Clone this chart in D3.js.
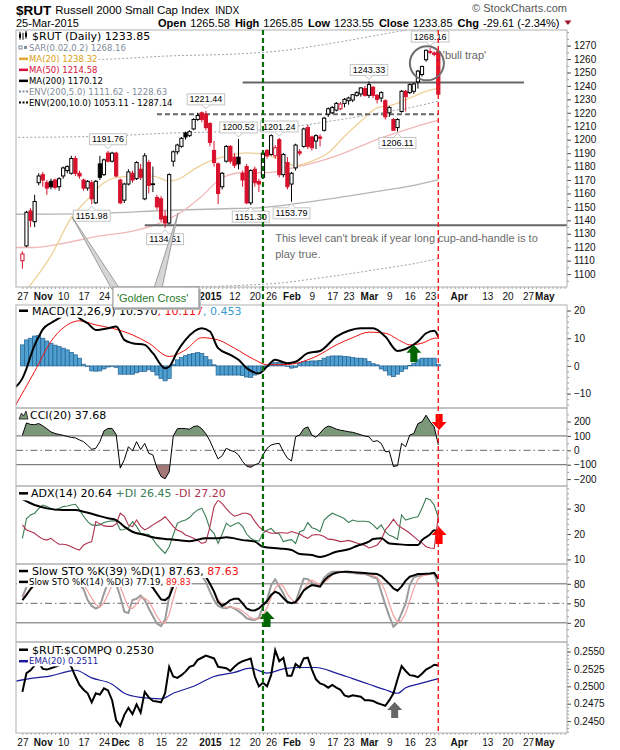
<!DOCTYPE html>
<html lang="en">
<head>
<meta charset="UTF-8">
<title>$RUT Russell 2000 Small Cap Index</title>
<script src="https://cdn.jsdelivr.net/npm/d3@7"></script>
<style>
  body { margin: 0; background: #fff; }
  svg { display: block; }
</style>
</head>
<body>
<div id="chart"></div>
<script>
// ---- values, one entry per trading day from 27-Oct-2014 ----
const open = [1110,1121,1147,1139,1168,1174,1168,1169,1170,1165, 1173,1177,1175,1186,1175,1170,1164,1168,1153,1182,
  1174,1190,1184,1190,1170,1155,1167,1175,1171,1178, 1156,1183,1167,1157,1156,1143,1138,1184,1191,1195,
  1205,1203,1208,1215,1220,1219,1212,1192,1182,1165, 1184,1195,1187,1187,1175,1180,1153,1178,1169,1172,
  1192,1189,1188,1200,1174,1183,1167,1179,1191,1195, 1209,1202,1199,1202,1207,1219,1220,1222,1223,1227,
  1229,1229.5,1233,1234,1238,1233,1239,1233,1231,1229, 1220,1215,1209,1221,1236,1235,1236,1243,1248.5,1259.5,
  1265.5,1264.5,1265.58];
const high = [1117,1147,1149,1159,1175,1176,1170,1171,1171,1172, 1180,1181,1188,1188,1177,1171,1170,1170,1170,1188,
  1186,1191.76,1191,1191,1171,1168,1178,1177,1184,1182, 1190,1185,1180,1159,1158,1147,1175,1192,1197,1202,
  1206,1207,1216,1220,1221,1221.44,1213,1199,1183,1176, 1196,1196,1190,1200.52,1177,1182,1178,1180,1171,1191,
  1193,1204,1196,1201.24,1190,1187,1176,1197,1193,1209, 1211,1203,1204,1204,1217,1224,1225,1228,1228,1231,
  1232,1234,1236,1239,1240,1243.33,1240,1234,1236,1230, 1225,1216,1216,1237,1237,1242,1242.5,1252,1255,1267,
  1268.16,1265.5,1265.85];
const low = [1104,1120,1135,1135,1166,1165,1159,1163,1163,1162, 1171,1175,1174,1173,1171,1162,1162,1151.98,1152,1170,
  1173,1183,1183,1172,1152,1153,1166,1168,1170,1170, 1155,1160,1161,1148,1139,1134.51,1137,1180,1189,1194,
  1200,1202,1207,1214,1213,1207,1195,1180,1152,1163, 1183,1182,1179,1178,1165,1152,1151.30,1165,1161,1171,
  1186,1188,1186,1172,1172,1163,1153.79,1177,1188,1194, 1193,1192,1193,1195,1206,1217,1219,1221,1222,1224,
  1226,1228,1232,1232,1232,1231,1231,1227,1228,1215, 1217,1206.5,1206.11,1220,1221,1234,1234,1238,1247,1258,
  1263.5,1262,1233.55];
const close = [1115,1146,1140,1154,1173,1170,1164,1165,1164.5,1171, 1179,1180,1186,1175,1173,1164,1169,1156,1169,1172,
  1185,1184,1190,1173,1153,1167,1176,1170,1183,1172, 1188,1166,1167.2,1150,1141,1138,1174,1191,1196,1201,
  1202,1206,1215,1218,1215,1209,1198,1183,1160,1175, 1195,1184,1181,1182,1170,1153,1177,1168,1167,1190,
  1188,1203,1194,1174,1189,1165,1175,1196,1190,1208, 1195,1194,1203,1201,1216,1223,1224,1227,1226.5,1230,
  1231,1233.5,1235,1238.5,1233,1241,1233,1230,1235,1217, 1224,1207,1215,1236,1232,1241,1241.5,1251,1254.5,1266.5,
  1265,1263.5,1233.85];
const prevClose = 1118;

// overlays: [trading-day index, value]
const ma20 = [[-2,1077],[3,1096],[7,1113.6],[12,1142],[16,1155.6],[19,1165.5],[23,1171.7],[27,1172.9],[32,1172.9],[36,1169.2],
  [39,1171.7],[42,1177.9],[45,1182.8],[50,1187.7],[55,1190.2],[59,1189],[63,1185.3],[67,1180.8],[71,1184],[75,1190.2],
  [79,1202.6],[83,1213.7],[87,1223.6],[91,1226],[95,1231],[99,1235.9],[102,1238.32]];
const ma50 = [[-2,1119.8],[3,1119.8],[11,1123.5],[19,1128.4],[27,1132],[34,1138.3],[39,1146.2],[44,1158],[49,1171.7],[54,1175.4],
  [59,1175.4],[63,1176.6],[68,1180.3],[73,1184],[78,1189],[83,1195.2],[88,1201.3],[93,1206.3],[98,1211.2],[102,1214.58]];
const ma200 = [[-2,1144.5],[19,1145.2],[36,1147.5],[52,1148.8],[56,1149],[64,1151.2],[72,1154.4],[81,1158.5],[89,1162.5],[95,1165.5],[102,1170.12]];
const env5Upper = [[-2,1201.7],[19,1202.5],[36,1204.9],[52,1206.2],[64,1208.8],[72,1212.1],[81,1216.4],[89,1220.6],[95,1223.8],[102,1228.63]];
const env5Lower = [[-2,1087.3],[19,1088],[36,1090.1],[52,1091.4],[64,1093.6],[72,1096.7],[81,1100.6],[89,1104.4],[95,1107.2],[102,1111.62]];
const env10Upper = [[-2,1259],[19,1259.7],[36,1262.3],[52,1263.7],[64,1266.3],[72,1269.8],[81,1274.4],[89,1278.8],[95,1282.1],[102,1287.14]];

// MACD(12,26,9)
const macdLine = [[-2,-8],[0,-4.5],[1,-1],[2,3.5],[3,7.5],[4,10.5],[5,13.2],[7,15.5],[10,18.2],[12,20.5],[14,17.2],[16,15.4],[18,13],
  [21,13.6],[23,14.2],[25,9.4],[27,8.2],[30,7.6],[32,4.6],[35,-0.8],[36,-0.3],[38,5.2],[40,9.4],[44,13.6],[46,12.4],[48,6.4],
  [51,4],[53,2.2],[55,-0.8],[58,-2.7],[60,-0.2],[62,2.2],[65,1],[67,1.5],[70,4.6],[73,5.4],[77,10.6],[80,12.7],[83,13.6],
  [86,13.6],[89,10.6],[92,5.4],[94,6.1],[97,8.8],[99,11.8],[101,12.7],[102,10.57]];
const macdSignal = [[-2,-15],[3,-2],[7,8.8],[11,14.8],[14,16.3],[18,14.8],[22,13.6],[27,11.2],[31,8.2],[36,3.4],[40,5.8],[44,10.2],
  [48,9.4],[52,6.4],[57,2.2],[60,0.4],[65,0.5],[70,2.2],[72,3.4],[77,7.6],[81,10.2],[85,12.2],[89,11.8],[93,8.8],[95,7.6],
  [98,8.2],[101,10],[102,10.12]];
const macdHist = [7.6,9.4,10,10.8,11,10,9,8.2,7.5,7, 6.4,5.8,4.9,4,2.8,0.6,-0.2,-1.8,-1.9,-1.8,
  -1.1,-0.4,-0.2,-0.5,-3,-3,-3,-3,-2.5,-2, -2,-1.4,-2,-3.3,-4.5,-5.4,-4.5,0.5,2.2,3,
  3.7,4.2,4.5,4.8,4.5,3.4,2.2,0.4,-3.3,-3.3, -3.3,-3.3,-3.3,-3.3,-3.5,-4,-4.2,-3.3,-2.7,-1.5,
  -0.3,1,1.2,1.2,1,-0.2,-0.8,-0.5,1,1.6, 1.6,1.8,1.8,2,2.8,3.3,3.6,3.6,3.6,3.4,
  3.3,3,2.8,2.8,2.6,1.6,0.8,0.4,-1.1,-1.8, -3.3,-3.9,-3,-2,-1.1,0.1,1,2.2,2.8,2.8,
  2.8,2.8,0.453];

// CCI(20)
const cci = [105,190,180,178,186,170,150,128,117,110, 104,96,90,86,72,60,35,7,14,60,
  135,152,152,110,-124,-65,25,-5,60,5, 48,-21,-32,-124,-182,-198,-150,100,150,152,
  150,147,165,170,150,115,65,0,-60,-37, 14,0,-10,-32,-78,-110,-118,-101,-90,-32,
  14,37,45,48,-9,-55,-74,94,106,150, 163,106,90,120,152,168,160,147,140,135,
  129,125,117,108,99,94,60,67,48,-9, -9,-113,-106,48,25,106,117,186,198,244,
  198,163,37.68];

// ADX(14)
const adx = [[0,33.7],[3,31.4],[6,30.1],[10,29.5],[13,29.5],[15,28.8],[18,27.5],[21,26.2],[23,25.5],[25,22.9],[27,20.9],[30,19.6],
  [32,18.7],[36,17.9],[38,17.6],[41,17.2],[45,18.3],[48,18.3],[50,18.7],[54,17.6],[57,17],[59,15],[63,14.3],[66,13.7],[68,12.1],
  [71,11.7],[73,11],[77,13],[80,14],[82,15.3],[85,17],[86,18],[88,18.3],[90,16.3],[92,16],[95,15.7],[97,15.7],[98,17.6],
  [100,19.9],[101,21.5],[102,20.64]];
const plusDI = [18.3,26,27.5,28.2,30,31.4,30.8,30,29.5,30, 30.8,31,31.4,31.7,29.5,27,24.9,23.6,23.4,23.6,
  24.5,24.9,25.2,25,21.6,21.8,22.5,24.9,23,20.3, 20,19.8,18,15.7,14,12.4,15,19.6,24.2,25,
  25.5,26.5,28.2,29.5,30.1,26.8,22,20.3,16.3,20, 24.2,23,23.8,24.5,23,20,18.3,17.5,17.2,20.3,
  21.5,22.2,20.5,20,17,17.5,17.8,16.3,20.9,21.5, 24.5,22.5,22,20.9,25.5,27,28.2,27.5,26.8,26,
  24.5,25.5,25,25,25,24.8,23.6,22,23.6,20.9, 19.5,18.9,17.9,27.5,25.5,26,26.5,26.8,30.1,34.1,
  33.5,31.4,26.45];
const minusDI = [23.6,21.6,21,20.3,19,18,17.6,18.3,17,16, 16,15.7,15,14.2,13.7,15.7,16.5,17,24.9,24,
  23.2,23,23,24,28.2,27,23.5,22.9,25.5,23, 21.6,22.5,23.6,24.5,25.5,26.8,25,22.9,21.5,20.9,
  19.6,19,18.3,17.5,16.3,16.8,22.9,30.8,33.4,32, 30,28.2,27,27.5,28.2,28.2,27.5,25,22.9,21.5,
  20.9,20.3,20.3,20.5,20.5,20.3,21,20.5,20,19, 18.3,19.5,19.8,19.6,19,18,17.9,17.5,17,17.2,
  17.5,17,16.5,16,15.5,14.5,15,15.7,17.6,21.6, 23.5,25.8,23.6,22.5,21.5,20.3,19,17.6,16.5,15,
  14.5,14.3,27.2];

// Slow stochastics
const sto39 = [55,63,72,79,85,90,92,93,93,95, 96,96,97,95,92,88,85,80,82,88,
  92,95,96,92,80,80,84,83,86,84, 88,80,74,65,56,55,60,76,84,88,
  90,92,95,96,94,91,80,68,52,46, 50,55,57,57,50,42,39.5,39,42,48,
  53,63,68,65,58,52,50,52,60,70, 74.6,78,77,75.6,85,91,95,97,98,98.7,
  98.5,98,97.5,97,96.5,96,95.5,95,92,86, 80,73,69.5,76,85,91,93,95,95,95.5,
  96,97,87.63];
const sto14K = [60,75,85,90,95,92,88,85,86,90, 92,90,92,85,80,72,55,46,42,45,
  65,82,88,80,60,37,35,55,57,62, 55,42,30,19,15,25,60,85,92,95,
  96,96,97,96,92,83,68,55,46,43, 42.5,45,42,38,33,27,25,24.4,28,45,
  55,78,87,76,65,52,50,52,70,88, 87,82,78,78,89,95,98.7,98.7,98.7,98,
  97.5,97,96,95.5,95,93,90,88,68,48, 30,14,20,35,50,78,90,92,93,95,
  95.5,96,77.19];
const sto14D = [58,65,73,83,90,92,92,88,86,87, 89,91,91,89,86,79,69,58,48,44,
  51,64,78,83,76,59,44,42,49,58, 58,53,42,30,21,20,33,57,79,91,
  94,96,96,96,95,90,81,69,56,48, 44,44,43,42,38,33,28,25.5,26,32,
  43,59,73,80,76,64,56,51,57,70, 82,86,82,79,82,87,94,97.5,98.7,98.5,
  98,97.5,96.8,96.2,95.5,94.5,92.7,90.3,82,68, 49,31,21,23,35,54,73,87,92,93.3,
  94.5,95.5,89.83];

// $RUT:$COMPQ ratio and its EMA(20)
const ratio = [0.2492,0.2519,0.2523,0.2530,0.2534,0.2525,0.2524,0.2526,0.2528,0.2530,
  0.2532,0.2533,0.2528,0.2514,0.2502,0.2495,0.2490,0.2477,0.2490,0.2488,
  0.2497,0.2494,0.2480,0.2451,0.2443,0.2459,0.2469,0.2460,0.2474,0.2462,
  0.2492,0.2484,0.2479,0.2478,0.2477,0.2490,0.2528,0.2514,0.2512,0.2516,
  0.2521,0.2528,0.2530,0.2538,0.2541,0.2544,0.2542,0.2540,0.2528,0.2527,
  0.2526,0.2522,0.2528,0.2533,0.2536,0.2538,0.2540,0.2514,0.2500,0.2505,
  0.2500,0.2516,0.2552,0.2536,0.2541,0.2515,0.2515,0.2532,0.2527,0.2540,
  0.2541,0.2524,0.2510,0.2504,0.2502,0.2498,0.2502,0.2498,0.2495,0.2487,
  0.2485,0.2487,0.2486,0.2485,0.2480,0.2480,0.2479,0.2476,0.2474,0.2472,
  0.2480,0.2490,0.2510,0.2529,0.2522,0.2516,0.2515,0.2513,0.2518,0.2524,
  0.2527,0.2531,0.2530];
const ratioEma = [[-2,0.2507],[3,0.2512],[7,0.2515],[11,0.2521],[13,0.2523],[17,0.2512],[22,0.2503],[25,0.2490],[29,0.2484],
  [34,0.2482],[37,0.2490],[42,0.2500],[47,0.2514],[52,0.2520],[56,0.2526],[60,0.2519],[64,0.2525],[68,0.2527],[72,0.2527],
  [77,0.2519],[81,0.2511],[85,0.2503],[89,0.2495],[92,0.2490],[94,0.2498],[97,0.2503],[102,0.2511]];

// x axis labels and calendar
const xLabels = [["2014-10-27","27"],["2014-11-03","Nov"],["2014-11-10","10"],["2014-11-17","17"],["2014-11-24","24"],
  ["2014-12-01","Dec"],["2014-12-08","8"],["2014-12-15","15"],["2014-12-22","22"],["2015-01-02","2015"],["2015-01-12","12"],
  ["2015-01-20","20"],["2015-01-26","26"],["2015-02-02","Feb"],["2015-02-09","9"],["2015-02-17","17"],["2015-02-23","23"],
  ["2015-03-02","Mar"],["2015-03-09","9"],["2015-03-16","16"],["2015-03-23","23"],["2015-04-01","Apr"],["2015-04-13","13"],
  ["2015-04-20","20"],["2015-04-27","27"],["2015-05-01","May"]];
const holidays = ["2014-11-27","2014-12-25","2015-01-01","2015-01-19","2015-02-16","2015-04-03"];

// labelled highs and lows (trading-day index)
const highTags = [21, 45, 53, 63, 85, 100];
const lowTags = [17, 35, 56, 66, 92];

const quote = [["Open","1265.58"],["High","1265.85"],["Low","1233.55"],["Close","1233.85"],["Chg","-29.61 (-2.34%)"]];

// ---- drawing ----
const W = 620, H = 750, L = 16, R = 567;
const SANS = "'Liberation Sans', Arial, sans-serif";
const VERD = "'DejaVu Sans', Verdana, sans-serif";

const fmtDay = d3.timeFormat("%Y-%m-%d");
const dayKeys = d3.timeDays(new Date(2014, 9, 27), new Date(2015, 4, 9))
  .filter(d => d.getDay() % 6 !== 0)
  .map(fmtDay)
  .filter(k => !holidays.includes(k));

const svg = d3.select("#chart").append("svg")
  .attr("width", W).attr("height", H)
  .attr("font-family", SANS);
const defs = svg.append("defs");

const x = d3.scaleLinear().domain([0, 102]).range([22.4, 438.3]);
const step = x(1) - x(0);

const borders = [];
function panel(id, top, bottom, domain, ticks, fmt, minor) {
  const y = d3.scaleLinear().domain(domain).range([bottom, top]);
  svg.append("rect").attr("x", L).attr("y", top).attr("width", R - L).attr("height", bottom - top).attr("fill", "#fff");
  defs.append("clipPath").attr("id", "clip-" + id).append("rect")
    .attr("x", L).attr("y", top).attr("width", R - L).attr("height", bottom - top);
  const g = svg.append("g").attr("clip-path", `url(#clip-${id})`);
  svg.append("g").attr("transform", `translate(${R},0)`)
    .call(d3.axisRight(y).tickValues(minor.filter(v => v > domain[0] && v < domain[1])).tickSize(2).tickFormat(() => ""))
    .call(a => a.select(".domain").remove())
    .call(a => a.selectAll("line").attr("stroke", "#999"));
  svg.append("g").attr("transform", `translate(${R},0)`)
    .call(d3.axisRight(y).tickValues(ticks).tickSize(4).tickPadding(3).tickFormat(fmt))
    .call(a => a.select(".domain").remove())
    .call(a => a.selectAll("line").attr("stroke", "#555"))
    .call(a => a.selectAll("text").attr("font-family", SANS).attr("font-size", 10).attr("fill", "#111"));
  borders.push([top, bottom]);
  return { g, y, top, bottom };
}

const ptLine = y => d3.line().x(d => x(d[0])).y(d => y(d[1])).curve(d3.curveMonotoneX);
const idxLine = y => d3.line().x((d, i) => x(i)).y(d => y(d));

function legend(g, rows) {
  rows.forEach(r => {
    const row = g.append("g");
    const bg = row.append("rect").attr("fill", "#fff");
    const t = row.append("text").attr("x", r.x).attr("y", r.y)
      .attr("font-family", VERD).attr("font-size", r.size);
    r.parts.forEach(p => t.append("tspan").attr("fill", p[1] || "#000").text(p[0]));
    const bb = t.node().getBBox();
    bg.attr("x", L + 1).attr("y", bb.y).attr("width", bb.x + bb.width - L).attr("height", bb.height);
    if (r.sym) r.sym(row, r.y - r.size * 0.36);
  });
}
const dash = (color, dots) => (g, cy) => g.append("line")
  .attr("x1", 19).attr("x2", 28).attr("y1", cy).attr("y2", cy)
  .attr("stroke", color).attr("stroke-width", dots ? 2 : 2.5)
  .attr("stroke-dasharray", dots ? "2,1.5" : null);

function blockArrow(g, px, tipY, baseY, color) {
  const s = tipY < baseY ? 1 : -1, hw = 7.5, sw = 3.5, hh = 8;
  g.append("path").attr("fill", color).attr("d",
    `M${px},${tipY}L${px + hw},${tipY + s * hh}L${px + sw},${tipY + s * hh}L${px + sw},${baseY}` +
    `L${px - sw},${baseY}L${px - sw},${tipY + s * hh}L${px - hw},${tipY + s * hh}Z`);
}

// header
const head = svg.append("g");
const sym = head.append("text").attr("x", 16).attr("y", 15).attr("font-size", 13.5).attr("font-weight", "bold").text("$RUT");
let tx = 16 + sym.node().getComputedTextLength() + 4;
const nm = head.append("text").attr("x", tx).attr("y", 14).attr("font-size", 11.5).text("Russell 2000 Small Cap Index");
tx += nm.node().getComputedTextLength() + 6;
head.append("text").attr("x", tx).attr("y", 14).attr("font-size", 10).text("INDX");
head.append("text").attr("x", 567).attr("y", 12).attr("font-size", 11).attr("fill", "#555")
  .attr("text-anchor", "end").text("\u00A9 StockCharts.com");
head.append("text").attr("x", 16).attr("y", 27).attr("font-size", 11).text("25-Mar-2015");
let hx = 158;
quote.forEach(([k, v]) => {
  const a = head.append("text").attr("x", hx).attr("y", 27).attr("font-size", 11).attr("font-weight", "bold").text(k);
  hx += a.node().getComputedTextLength() + 4;
  const b = head.append("text").attr("x", hx).attr("y", 27).attr("font-size", 11).text(v);
  hx += b.node().getComputedTextLength() + 5;
});
head.append("path").attr("d", `M${hx},20.5L${hx + 7},20.5L${hx + 3.5},25Z`).attr("fill", "#a0102a");

// ---- price panel ----
const main = panel("main", 30, 287, [1090.4, 1281.6], d3.range(1100, 1271, 10), d3.format("d"), d3.range(1095, 1281, 5));
const ym = main.y, gm = main.g;

[[env10Upper, "#9aa3ad"], [env5Upper, "#9aa3ad"], [env5Lower, "#9aa3ad"]].forEach(([d, c]) =>
  gm.append("path").datum(d).attr("d", ptLine(ym)).attr("fill", "none").attr("stroke", c)
    .attr("stroke-width", 1).attr("stroke-dasharray", "2,2"));
[[ma200, "#b4b4b4"], [ma50, "#f2b8b8"], [ma20, "#efd197"]].forEach(([d, c]) =>
  gm.append("path").datum(d).attr("d", ptLine(ym)).attr("fill", "none").attr("stroke", c).attr("stroke-width", 1.3));

// trader's levels
gm.append("line").attr("x1", x(54)).attr("x2", x(123)).attr("y1", ym(1242.6)).attr("y2", ym(1242.6))
  .attr("stroke", "#666").attr("stroke-width", 2);
gm.append("line").attr("x1", x(33)).attr("x2", x(102)).attr("y1", ym(1219)).attr("y2", ym(1219))
  .attr("stroke", "#666").attr("stroke-width", 2).attr("stroke-dasharray", "5,3");
gm.append("line").attr("x1", x(30)).attr("x2", R).attr("y1", ym(1136.3)).attr("y2", ym(1136.3))
  .attr("stroke", "#666").attr("stroke-width", 2);

// candles
const candles = open.map((o, i) => ({
  i, o, h: high[i], l: low[i], c: close[i],
  col: close[i] < (i ? close[i - 1] : prevClose) ? "#d8102c" : "#000"
}));
const cg = gm.append("g");
cg.selectAll("line").data(candles).join("line")
  .attr("x1", d => x(d.i)).attr("x2", d => x(d.i))
  .attr("y1", d => ym(d.h)).attr("y2", d => ym(d.l))
  .attr("stroke", d => d.col);
cg.selectAll("rect").data(candles).join("rect")
  .attr("x", d => x(d.i) - 1.6).attr("width", 3.2)
  .attr("y", d => ym(Math.max(d.o, d.c)))
  .attr("height", d => Math.max(0.8, Math.abs(ym(d.o) - ym(d.c))))
  .attr("fill", d => d.c > d.o ? "#fff" : d.col)
  .attr("stroke", d => d.col).attr("stroke-width", 1);

// high / low value tags
function tag(i, v, above) {
  const cx = x(i), py = ym(v), h = 11;
  const g = gm.append("g");
  const rect = g.append("rect");
  const t = g.append("text").attr("x", cx).attr("text-anchor", "middle").attr("font-size", 9).text(d3.format(".2f")(v));
  const w = t.node().getComputedTextLength() + 5;
  const top = above ? py - 6 - h : py + 6;
  t.attr("y", top + 8.5);
  rect.attr("x", cx - w / 2).attr("y", top).attr("width", w).attr("height", h)
    .attr("fill", "#fff").attr("stroke", "#c4c4c4");
  const by = above ? top + h : top, ty = above ? py - 2 : py + 2;
  g.append("path").attr("d", `M${cx - 4},${by}L${cx},${ty}L${cx + 4},${by}`)
    .attr("fill", "#fff").attr("stroke", "#c4c4c4");
}
highTags.forEach(i => tag(i, high[i], true));
lowTags.forEach(i => tag(i, low[i], false));

// notes
gm.append("circle").attr("cx", x(99.2)).attr("cy", ym(1256.8)).attr("r", 17)
  .attr("fill", "none").attr("stroke", "#6e6e6e").attr("stroke-width", 2);
gm.append("text").attr("x", x(103.1)).attr("y", ym(1262.9) + 4).attr("font-size", 11).attr("fill", "#666").text("'bull trap'");
gm.append("text").attr("x", x(62)).attr("y", ym(1126.9) + 4).attr("font-size", 11).attr("fill", "#6a6a6a")
  .text("This level can't break if year long cup-and-handle is to");
gm.append("text").attr("x", x(62)).attr("y", ym(1115) + 4).attr("font-size", 11).attr("fill", "#6a6a6a").text("play true.");

legend(gm, [
  { x: 32, y: 39.7, size: 11, parts: [["$RUT (Daily) 1233.85"]],
    sym: (g, cy) => {
      g.append("path").attr("d", `M20,${cy - 4}v8M23,${cy - 3}v7M26,${cy - 5}v8`).attr("stroke", "#000");
      g.append("rect").attr("x", 19).attr("y", cy - 2).attr("width", 2).attr("height", 4).attr("fill", "#000");
      g.append("rect").attr("x", 25).attr("y", cy - 3).attr("width", 2).attr("height", 4).attr("fill", "#000");
    } },
  { x: 29, y: 50.5, size: 8.5, parts: [["SAR(0.02,0.2) 1268.16", "#7f8c99"]],
    sym: (g, cy) => {
      g.append("rect").attr("x", 19).attr("y", cy - 1.5).attr("width", 3).attr("height", 3).attr("fill", "none").attr("stroke", "#7f8c99");
      g.append("rect").attr("x", 24).attr("y", cy - 1.5).attr("width", 3).attr("height", 3).attr("fill", "#7f8c99");
    } },
  { x: 29, y: 61.9, size: 8.5, parts: [["MA(20) 1238.32", "#d9a020"]], sym: dash("#e0a830") },
  { x: 29, y: 72.9, size: 8.5, parts: [["MA(50) 1214.58", "#d8103c"]], sym: dash("#d8103c") },
  { x: 29, y: 83.9, size: 8.5, parts: [["MA(200) 1170.12"]], sym: dash("#000") },
  { x: 29, y: 94.5, size: 8.5, parts: [["ENV(200,5.0) 1111.62 - 1228.63", "#7f8c99"]], sym: dash("#7f8c99", true) },
  { x: 29, y: 105.5, size: 8.5, parts: [["ENV(200,10.0) 1053.11 - 1287.14"]], sym: dash("#000", true) }
]);

// ---- MACD ----
const macd = panel("macd", 305, 408, [-15.2, 22], [-10, 0, 10, 20], d3.format("d"), d3.range(-14, 22, 2));
macd.g.selectAll("rect.h").data(macdHist).join("rect").attr("class", "h")
  .attr("x", (d, i) => x(i) - step / 2).attr("width", step)
  .attr("y", d => Math.min(macd.y(0), macd.y(d)))
  .attr("height", d => Math.abs(macd.y(d) - macd.y(0)))
  .attr("fill", "#4f9fd0").attr("stroke", "#23608f").attr("stroke-width", 0.7);
macd.g.append("path").datum(macdSignal).attr("d", ptLine(macd.y)).attr("fill", "none").attr("stroke", "#f01010").attr("stroke-width", 1);
macd.g.append("path").datum(macdLine).attr("d", ptLine(macd.y)).attr("fill", "none").attr("stroke", "#000").attr("stroke-width", 2);
blockArrow(macd.g, x(96), macd.y(7.6), macd.y(1.4), "#006400");
legend(macd.g, [{ x: 32, y: 314.7, size: 11,
  parts: [["MACD(12,26,9) 10.570"], [", 10.117", "#f01010"], [", 0.453", "#3a9ad0"]], sym: dash("#000") }]);

// ---- CCI ----
const cciP = panel("cci", 408, 486, [-248, 294], [-200, -100, 0, 100, 200], d3.format("d"), d3.range(-250, 300, 50));
const yc = cciP.y;
defs.append("clipPath").attr("id", "cci-up").append("rect").attr("x", L).attr("y", cciP.top).attr("width", R - L).attr("height", yc(100) - cciP.top);
defs.append("clipPath").attr("id", "cci-dn").append("rect").attr("x", L).attr("y", yc(-100)).attr("width", R - L).attr("height", cciP.bottom - yc(-100));
cciP.g.append("path").datum(cci).attr("clip-path", "url(#cci-up)").attr("fill", "#7b987a")
  .attr("d", d3.area().x((d, i) => x(i)).y0(yc(100)).y1(d => yc(d)));
cciP.g.append("path").datum(cci).attr("clip-path", "url(#cci-dn)").attr("fill", "#a27878")
  .attr("d", d3.area().x((d, i) => x(i)).y0(yc(-100)).y1(d => yc(d)));
[[100, null], [-100, null], [0, "7,3,1.5,3"]].forEach(([v, da]) =>
  cciP.g.append("line").attr("x1", L).attr("x2", R).attr("y1", yc(v)).attr("y2", yc(v))
    .attr("stroke", "#666").attr("stroke-width", 1).attr("stroke-dasharray", da));
cciP.g.append("path").datum(cci).attr("d", idxLine(yc)).attr("fill", "none").attr("stroke", "#000").attr("stroke-width", 1);
blockArrow(cciP.g, x(102.2), yc(141), yc(252), "#ff0000");
legend(cciP.g, [{ x: 30, y: 419, size: 11, parts: [["CCI(20) 37.68"]],
  sym: (g, cy) => g.append("path").attr("d", `M19,${cy + 4}L21.5,${cy - 2}L23.5,${cy + 1}L26,${cy - 4}L28,${cy + 4}Z`)
    .attr("fill", "#7b987a").attr("stroke", "#000").attr("stroke-width", 0.7) }]);

// ---- ADX ----
const adxP = panel("adx", 486, 564, [8.2, 38.9], [10, 20, 30], d3.format("d"), d3.range(10, 39, 2));
adxP.g.append("path").datum(plusDI).attr("d", idxLine(adxP.y)).attr("fill", "none").attr("stroke", "#3a7d55").attr("stroke-width", 1.1);
adxP.g.append("path").datum(minusDI).attr("d", idxLine(adxP.y)).attr("fill", "none").attr("stroke", "#b0304f").attr("stroke-width", 1.1);
adxP.g.append("path").datum(adx).attr("d", ptLine(adxP.y)).attr("fill", "none").attr("stroke", "#000").attr("stroke-width", 2);
blockArrow(adxP.g, x(102.2), adxP.y(22.8), adxP.y(16.1), "#ff0000");
legend(adxP.g, [{ x: 31, y: 497.3, size: 11,
  parts: [["ADX(14) 20.64 "], ["+DI 26.45 ", "#3a7d55"], ["-DI 27.20", "#b0304f"]], sym: dash("#000") }]);

// ---- Slow stochastics ----
const stoP = panel("sto", 564, 642, [-9.5, 110.5], [20, 50, 80], d3.format("d"), d3.range(0, 110, 10));
[[80, null], [20, null], [50, "7,3,1.5,3"]].forEach(([v, da]) =>
  stoP.g.append("line").attr("x1", L).attr("x2", R).attr("y1", stoP.y(v)).attr("y2", stoP.y(v))
    .attr("stroke", "#666").attr("stroke-width", 1).attr("stroke-dasharray", da));
stoP.g.append("path").datum(sto14K).attr("d", idxLine(stoP.y)).attr("fill", "none").attr("stroke", "#9b9b9b").attr("stroke-width", 2);
stoP.g.append("path").datum(sto14D).attr("d", idxLine(stoP.y)).attr("fill", "none").attr("stroke", "#f4a0a0").attr("stroke-width", 1.2);
stoP.g.append("path").datum(sto39).attr("d", idxLine(stoP.y)).attr("fill", "none").attr("stroke", "#000").attr("stroke-width", 2);
blockArrow(stoP.g, x(60), stoP.y(38.2), stoP.y(13.5), "#006400");
legend(stoP.g, [
  { x: 32, y: 575, size: 11, parts: [["Slow STO %K(39) %D(1) 87.63, "], ["87.63", "#f01010"]], sym: dash("#000") },
  { x: 29, y: 585, size: 8.6, parts: [["Slow STO %K(14) %D(3) 77.19, "], ["89.83", "#f01010"]], sym: dash("#000") }
]);

// ---- $RUT:$COMPQ ----
const ratP = panel("ratio", 642, 733, [0.24329, 0.25636], [0.245, 0.2475, 0.25, 0.2525, 0.255], d3.format(".4f"),
  d3.range(0.2435, 0.2565, 0.0005));
ratP.g.append("path").datum(ratioEma).attr("d", ptLine(ratP.y)).attr("fill", "none").attr("stroke", "#1c1c9c").attr("stroke-width", 1.2);
ratP.g.append("path").datum(ratio).attr("d", idxLine(ratP.y)).attr("fill", "none").attr("stroke", "#000").attr("stroke-width", 2);
blockArrow(ratP.g, x(91.3), ratP.y(0.24774), ratP.y(0.24545), "#666");
legend(ratP.g, [
  { x: 32, y: 653.7, size: 11, parts: [["$RUT:$COMPQ 0.2530"]], sym: dash("#000") },
  { x: 29, y: 664.3, size: 8.6, parts: [["EMA(20) 0.2511", "#1c1c9c"]], sym: dash("#1c1c9c") }
]);

// borders
borders.forEach(([t, b]) => svg.append("rect").attr("x", L).attr("y", t).attr("width", R - L).attr("height", b - t)
  .attr("fill", "none").attr("stroke", "#b0b0b0"));

// 'Golden Cross' callout box span (trading-day index)
const gcFrom = 22.2, gcWidth = 86;

// date axes (top row is partly covered by the callout box, so those labels are left out there)
const tickIdx = xLabels.map(d => dayKeys.indexOf(d[0]));
const labelOf = new Map(xLabels.map((d, k) => [tickIdx[k], d[1]]));
[[287, 300, true], [733, 745.5, false]].forEach(([yb, yt, top]) => {
  const shown = top ? tickIdx.filter(i => x(i) < x(gcFrom) - 4 || x(i) > x(gcFrom) + gcWidth + 4) : tickIdx;
  svg.append("g").attr("transform", `translate(0,${yb})`)
    .call(d3.axisBottom(x).tickValues(d3.range(0, dayKeys.length)).tickSize(2).tickFormat(() => ""))
    .call(a => a.select(".domain").remove())
    .call(a => a.selectAll("line").attr("stroke", "#aaa"));
  svg.append("g").attr("transform", `translate(0,${yb})`)
    .call(d3.axisBottom(x).tickValues(shown).tickSize(0).tickFormat(i => labelOf.get(i)))
    .call(a => a.select(".domain").remove())
    .call(a => a.selectAll("text").attr("dy", null).attr("y", yt - yb)
      .attr("font-family", SANS).attr("font-size", 10).attr("fill", "#111")
      .attr("font-weight", i => /^[A-Z]|^\d{4}$/.test(labelOf.get(i)) ? "bold" : "normal"));
});

// event lines
[[59, "#0a6e0a", 2.2], [102, "#ff1a1a", 1.4]].forEach(([i, c, w]) =>
  svg.append("line").attr("x1", x(i)).attr("x2", x(i)).attr("y1", 30).attr("y2", 733)
    .attr("stroke", c).attr("stroke-width", w).attr("stroke-dasharray", "5,3"));

// 'Golden Cross' callout
const gc = svg.append("g");
[[12.2, 1142.5, 21.9, 23.9], [38.2, 1145.5, 32.2, 34.2]].forEach(([ai, av, b1, b2]) =>
  gc.append("path").attr("d", `M${x(ai)},${ym(av)}L${x(b1)},289L${x(b2)},289Z`)
    .attr("fill", "#d6d6d6").attr("stroke", "#8a8a8a").attr("stroke-width", 0.8));
const gx = x(gcFrom);
gc.append("rect").attr("x", gx + 2).attr("y", 289).attr("width", gcWidth).attr("height", 21).attr("fill", "#bdbdbd");
gc.append("rect").attr("x", gx).attr("y", 287).attr("width", gcWidth).attr("height", 21).attr("fill", "#fff").attr("stroke", "#888");
gc.append("text").attr("x", gx + 4).attr("y", 301.5).attr("font-size", 11).attr("fill", "#2a7a2a").text("'Golden Cross'");
</script>
</body>
</html>
